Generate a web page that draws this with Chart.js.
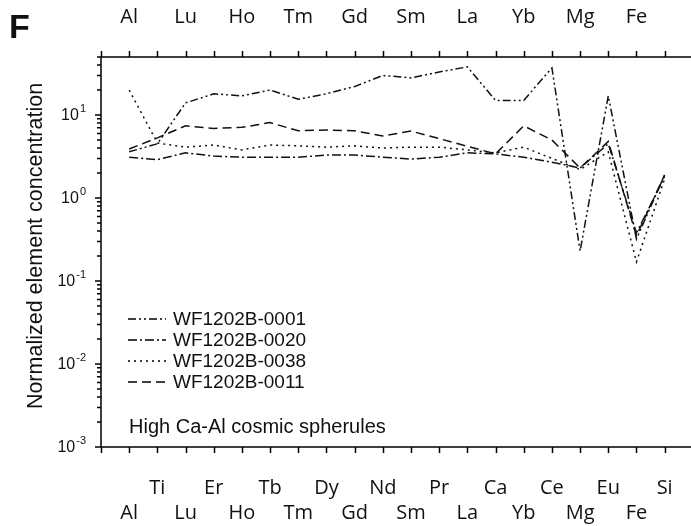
<!DOCTYPE html>
<html>
<head>
<meta charset="utf-8">
<script src="https://cdn.jsdelivr.net/npm/chart.js@4/dist/chart.umd.min.js"></script>
<style>
  html, body { margin: 0; padding: 0; background: #fff; }
  #wrap { width: 691px; height: 526px; }
</style>
</head>
<body>
<div id="wrap"><canvas id="reeChart"></canvas></div>
<script>
// Element order along the x axis
const elements = ['Al', 'Ti', 'Lu', 'Er', 'Ho', 'Tb', 'Tm', 'Dy', 'Gd', 'Nd',
                  'Sm', 'Pr', 'La', 'Ca', 'Yb', 'Ce', 'Mg', 'Eu', 'Fe', 'Si'];

// Normalized concentrations
const wf0001 = [3.6, 4.5, 14, 18, 17, 20, 15.5, 18, 22, 30, 28, 33, 38, 15, 15, 37, 0.23, 17, 0.32, 1.9];
const wf0020 = [3.1, 2.9, 3.5, 3.2, 3.1, 3.1, 3.1, 3.3, 3.3, 3.1, 2.95, 3.1, 3.5, 3.4, 3.1, 2.7, 2.3, 4.5, 0.38, 1.8];
const wf0038 = [20, 4.6, 4.1, 4.35, 3.8, 4.35, 4.25, 4.1, 4.25, 4.0, 4.1, 4.1, 3.8, 3.5, 4.1, 3.0, 2.2, 3.6, 0.17, 1.7];
const wf0011 = [3.9, 5.3, 7.4, 6.9, 7.1, 8.1, 6.45, 6.6, 6.45, 5.6, 6.4, 5.2, 4.2, 3.4, 7.4, 5.0, 2.3, 4.8, 0.35, 1.9];

const seriesNames = ['WF1202B-0001', 'WF1202B-0020', 'WF1202B-0038', 'WF1202B-0011'];
const yMajorExponents = [-3, -2, -1, 0, 1];

const dashes = [[8, 3, 2, 3, 2, 3], [9, 3, 2, 3], [2, 4], [9, 5]];

function toPoints(values) {
    return values.map((v, i) => ({ x: i, y: v }));
}

const datasets = [wf0001, wf0020, wf0038, wf0011].map((vals, k) => ({
    label: seriesNames[k],
    data: toPoints(vals),
    borderColor: '#111',
    borderWidth: 1.5,
    borderDash: dashes[k],
    pointRadius: 0,
    fill: false,
    tension: 0
}));

// Axes frame, ticks, labels, legend and caption
const decorPlugin = {
    id: 'decor',
    afterDraw(chart) {
        const ctx = chart.ctx;
        const xs = chart.scales.x;
        const ys = chart.scales.y;
        const a = chart.chartArea;
        ctx.save();
        ctx.strokeStyle = '#000';
        ctx.fillStyle = '#111';
        ctx.lineWidth = 1.5;
        ctx.setLineDash([]);

        // frame lines (left, top, bottom)
        ctx.beginPath();
        ctx.moveTo(a.left, a.top);
        ctx.lineTo(chart.width, a.top);
        ctx.moveTo(a.left, a.top);
        ctx.lineTo(a.left, a.bottom);
        ctx.moveTo(a.left, a.bottom);
        ctx.lineTo(chart.width, a.bottom);
        ctx.stroke();

        // x ticks, top and bottom, pointing outwards
        ctx.beginPath();
        for (let i = -1; i < elements.length; i++) {
            const px = Math.round(xs.getPixelForValue(i)) + 0.5;
            ctx.moveTo(px, a.top);
            ctx.lineTo(px, a.top - 6);
            ctx.moveTo(px, a.bottom);
            ctx.lineTo(px, a.bottom + 6);
        }
        ctx.stroke();

        // y ticks on a log scale
        ctx.beginPath();
        for (let e = -3; e <= 1; e++) {
            for (let k = 1; k <= 9; k++) {
                const v = k * Math.pow(10, e);
                if (v > ys.max) break;
                const py = ys.getPixelForValue(v);
                const len = k === 1 ? 6 : 4;
                ctx.moveTo(a.left, py);
                ctx.lineTo(a.left - len, py);
            }
        }
        ctx.stroke();

        // y tick labels 10^n
        ctx.textBaseline = 'middle';
        yMajorExponents.forEach(e => {
            const py = ys.getPixelForValue(Math.pow(10, e));
            const sup = String(e);
            ctx.font = '11px "Liberation Sans", Arial, sans-serif';
            const supW = ctx.measureText(sup).width;
            const right = a.left - 15;
            ctx.textAlign = 'right';
            ctx.fillText(sup, right, py - 6);
            ctx.font = '16px "Liberation Sans", Arial, sans-serif';
            ctx.fillText('10', right - supW - 1, py + 1);
        });

        // y axis title
        ctx.save();
        ctx.translate(36, 246);
        ctx.rotate(-Math.PI / 2);
        ctx.textAlign = 'center';
        ctx.font = '21.5px "Liberation Sans", Arial, sans-serif';
        ctx.fillText('Normalized element concentration', 0, 0);
        ctx.restore();

        // staggered element labels below the axis
        ctx.textAlign = 'center';
        ctx.font = '20px "Open Sans", sans-serif';
        elements.forEach((el, i) => {
            const px = xs.getPixelForValue(i);
            const py = i % 2 === 0 ? 513 : 488;
            ctx.fillText(el, px, py);
        });
        // label row of the panel above, cut by the top edge
        elements.forEach((el, i) => {
            if (i % 2 === 0) ctx.fillText(el, xs.getPixelForValue(i), 17);
        });

        // panel letter
        ctx.textAlign = 'left';
        ctx.font = 'bold 34px "Liberation Sans", Arial, sans-serif';
        ctx.fillText('F', 9, 29);

        // legend inside the plot
        ctx.font = '19px "Liberation Sans", Arial, sans-serif';
        chart.data.datasets.forEach((ds, k) => {
            const py = 319 + k * 21;
            ctx.beginPath();
            ctx.setLineDash(ds.borderDash);
            ctx.lineWidth = 1.5;
            ctx.moveTo(128, py);
            ctx.lineTo(166, py);
            ctx.stroke();
            ctx.setLineDash([]);
            ctx.fillText(ds.label, 173, py + 1);
        });

        ctx.font = '20px "Liberation Sans", Arial, sans-serif';
        ctx.fillText('High Ca-Al cosmic spherules', 129, 427);
        ctx.restore();
    }
};

new Chart(document.getElementById('reeChart'), {
    type: 'line',
    data: { datasets: datasets },
    options: {
        responsive: true,
        maintainAspectRatio: false,
        animation: false,
        layout: { padding: { left: 101, top: 57, right: 1, bottom: 79 } },
        plugins: {
            legend: { display: false },
            tooltip: { enabled: false }
        },
        scales: {
            x: { type: 'linear', min: -1, max: 19.9, display: false },
            y: { type: 'logarithmic', min: 0.001, max: 50, display: false }
        }
    },
    plugins: [decorPlugin]
});
</script>
</body>
</html>
